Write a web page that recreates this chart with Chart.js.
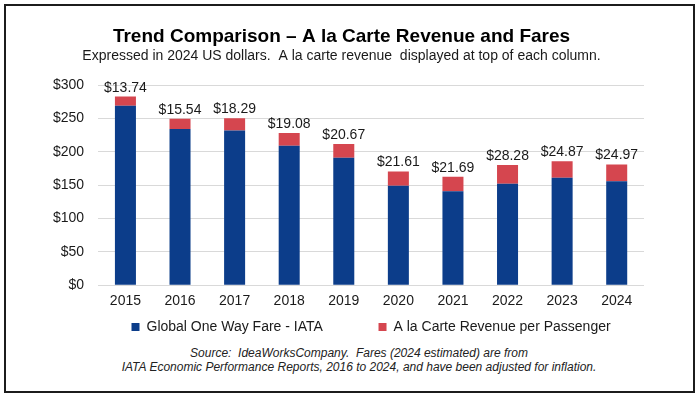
<!DOCTYPE html>
<html>
<head>
<meta charset="utf-8">
<script src="https://cdn.jsdelivr.net/npm/chart.js@4.4.1/dist/chart.umd.min.js"></script>
<style>
  html, body { margin: 0; padding: 0; background: #fff; overflow: hidden; }
  #frame {
    position: absolute; left: 4px; top: 4px; width: 691px; height: 389px;
    box-sizing: border-box; border: 2px solid #1c1c1c;
  }
  #wrap { position: absolute; left: 0; top: 0; width: 700px; height: 344px; }
  .src {
    position: absolute; font: italic 12px "Liberation Sans", Arial, sans-serif;
    color: #222; white-space: pre; line-height: 14px; transform: translateX(-50%);
  }
</style>
</head>
<body>
<div id="frame"></div>
<div id="wrap"><canvas id="chart" width="700" height="344"></canvas></div>
<div class="src" style="left:359px; top:346px;">Source:  IdeaWorksCompany.  Fares (2024 estimated) are from</div>
<div class="src" style="left:359px; top:360px;">IATA Economic Performance Reports, 2016 to 2024, and have been adjusted for inflation.</div>
<script>
// valores (US$ de 2024)
const years = ['2015', '2016', '2017', '2018', '2019', '2020', '2021', '2022', '2023', '2024'];
const fareIata = [269, 234, 232, 209, 191, 149, 141, 152, 161, 156];
const alaCarte = [13.74, 15.54, 18.29, 19.08, 20.67, 21.61, 21.69, 28.28, 24.87, 24.97];
const yTicks = [0, 50, 100, 150, 200, 250, 300];

const FONT = '"Liberation Sans", Arial, sans-serif';
Chart.defaults.font.family = FONT;
Chart.defaults.color = '#1a1a1a';

// rótulo com a receita à la carte no topo de cada coluna
const topLabels = {
  id: 'topLabels',
  afterDatasetsDraw(chart) {
    const meta = chart.getDatasetMeta(1);
    const ctx = chart.ctx;
    ctx.save();
    ctx.font = '14px ' + FONT;
    ctx.fillStyle = '#1a1a1a';
    ctx.textAlign = 'center';
    ctx.textBaseline = 'alphabetic';
    meta.data.forEach((bar, i) => {
      ctx.fillText('$' + alaCarte[i].toFixed(2), bar.x, bar.y - 5);
    });
    ctx.restore();
  }
};

const ctx = document.getElementById('chart').getContext('2d');
new Chart(ctx, {
  type: 'bar',
  data: {
    labels: years,
    datasets: [
      {
        label: 'Global One Way Fare - IATA',
        data: fareIata,
        backgroundColor: '#0c3d8a',
        barPercentage: 0.77,
        categoryPercentage: 0.5
      },
      {
        label: 'A la Carte Revenue per Passenger',
        data: alaCarte,
        backgroundColor: '#d5464f',
        barPercentage: 0.77,
        categoryPercentage: 0.5
      }
    ]
  },
  options: {
    responsive: false,
    animation: false,
    layout: { padding: { left: 39, right: 56, top: 0, bottom: 0 } },
    plugins: {
      title: {
        display: true,
        text: 'Trend Comparison \u2013 A la Carte Revenue and Fares',
        color: '#000',
        font: { size: 19, weight: 'bold' },
        padding: { top: 25, bottom: 0 }
      },
      subtitle: {
        display: true,
        text: 'Expressed in 2024 US dollars.  A la carte revenue  displayed at top of each column.',
        color: '#1a1a1a',
        font: { size: 14 },
        padding: { top: 0, bottom: 20.5 }
      },
      legend: {
        position: 'bottom',
        fullSize: false,
        labels: {
          boxWidth: 8,
          boxHeight: 8,
          padding: 2,
          color: '#1a1a1a',
          font: { size: 14 },
          generateLabels(chart) {
            const items = Chart.defaults.plugins.legend.labels.generateLabels(chart);
            // espaço extra entre os dois itens da legenda
            items[0].text = items[0].text + '\u2003\u2003\u2003   ';
            return items;
          }
        }
      },
      tooltip: { enabled: false }
    },
    scales: {
      x: {
        stacked: true,
        grid: { display: false, drawTicks: false },
        border: { display: false },
        ticks: { padding: 8, font: { size: 14 }, color: '#1a1a1a' }
      },
      y: {
        stacked: true,
        min: 0,
        max: 300,
        afterBuildTicks(axis) { axis.ticks = yTicks.map(v => ({ value: v })); },
        grid: { color: '#d9d9d9', drawTicks: false },
        border: { display: false },
        ticks: { padding: 14, font: { size: 14 }, color: '#1a1a1a', callback: v => '$' + v }
      }
    }
  },
  plugins: [topLabels]
});
</script>
</body>
</html>
